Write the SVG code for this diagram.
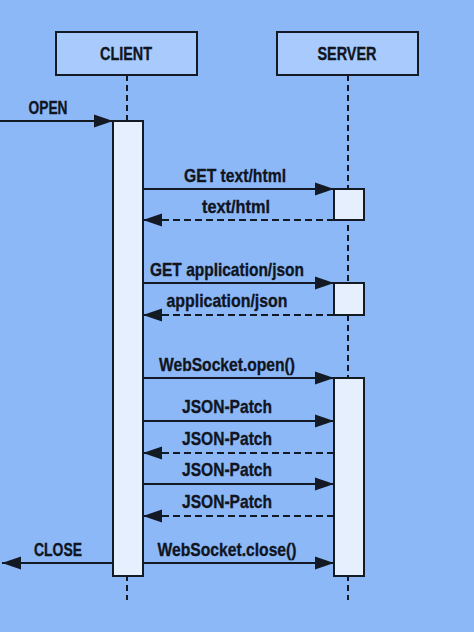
<svg xmlns="http://www.w3.org/2000/svg" width="474" height="632" viewBox="0 0 474 632">
<style>
.bg{fill:#8db8f8}
.head{fill:#a9cafc;stroke:#141a24;stroke-width:2}
.act{fill:#e6effe;stroke:#141a24;stroke-width:2}
.life{stroke:#141a24;stroke-width:2;stroke-dasharray:6 4;fill:none}
.msg{stroke:#141a24;stroke-width:2;fill:none}
.ret{stroke:#141a24;stroke-width:2;fill:none;stroke-dasharray:7 4}
text{font-family:"Liberation Sans",Arial,sans-serif;font-weight:bold;font-size:18.5px;fill:#10151f;stroke:#10151f;stroke-width:0.35;text-anchor:middle}
</style>
<defs>
<marker id="ah" markerUnits="userSpaceOnUse" markerWidth="19" markerHeight="13" refX="19" refY="6.5" orient="auto" overflow="visible">
<path d="M0,0 L19,6.5 L0,13 Z" fill="#141a24" stroke="none"/>
</marker>
</defs>
<rect class="bg" x="0" y="0" width="474" height="632"/>
<g id="lifelines">
<line class="life" x1="127" y1="75" x2="127" y2="600"/>
<line class="life" x1="348" y1="75" x2="348" y2="600"/>
</g>
<g id="client">
<rect class="head" x="56" y="32" width="141" height="43"/>
<text x="126" y="60" textLength="52" lengthAdjust="spacingAndGlyphs">CLIENT</text>
</g>
<g id="server">
<rect class="head" x="277" y="32" width="141" height="43"/>
<text x="347" y="60" textLength="59" lengthAdjust="spacingAndGlyphs">SERVER</text>
</g>
<g id="client-activation">
<rect class="act" x="113" y="121" width="30" height="455"/>
</g>
<g id="server-activation-html">
<rect class="act" x="334" y="189" width="30" height="31"/>
</g>
<g id="server-activation-json">
<rect class="act" x="334" y="283" width="30" height="32"/>
</g>
<g id="server-activation-ws">
<rect class="act" x="334" y="378" width="30" height="198"/>
</g>
<g id="connectors">
<line class="msg" x1="0" y1="121" x2="113" y2="121" marker-end="url(#ah)"/>
<text x="48" y="114" textLength="39" lengthAdjust="spacingAndGlyphs">OPEN</text>
<line class="msg" x1="143" y1="189" x2="334" y2="189" marker-end="url(#ah)"/>
<text x="235" y="182" textLength="102" lengthAdjust="spacingAndGlyphs">GET text/html</text>
<line class="ret" x1="334" y1="220" x2="143" y2="220" marker-end="url(#ah)"/>
<text x="236" y="213" textLength="68" lengthAdjust="spacingAndGlyphs">text/html</text>
<line class="msg" x1="143" y1="283" x2="334" y2="283" marker-end="url(#ah)"/>
<text x="227" y="276" textLength="154" lengthAdjust="spacingAndGlyphs">GET application/json</text>
<line class="ret" x1="334" y1="315" x2="143" y2="315" marker-end="url(#ah)"/>
<text x="227" y="307" textLength="121" lengthAdjust="spacingAndGlyphs">application/json</text>
<line class="msg" x1="143" y1="378" x2="334" y2="378" marker-end="url(#ah)"/>
<text x="227" y="371" textLength="136" lengthAdjust="spacingAndGlyphs">WebSocket.open()</text>
<line class="msg" x1="143" y1="421" x2="334" y2="421" marker-end="url(#ah)"/>
<text x="227" y="413" textLength="90" lengthAdjust="spacingAndGlyphs">JSON-Patch</text>
<line class="ret" x1="334" y1="453" x2="143" y2="453" marker-end="url(#ah)"/>
<text x="227" y="445" textLength="90" lengthAdjust="spacingAndGlyphs">JSON-Patch</text>
<line class="msg" x1="143" y1="484" x2="334" y2="484" marker-end="url(#ah)"/>
<text x="227" y="476" textLength="90" lengthAdjust="spacingAndGlyphs">JSON-Patch</text>
<line class="ret" x1="334" y1="516" x2="143" y2="516" marker-end="url(#ah)"/>
<text x="227" y="508" textLength="90" lengthAdjust="spacingAndGlyphs">JSON-Patch</text>
<line class="msg" x1="113" y1="563" x2="2" y2="563" marker-end="url(#ah)"/>
<text x="58" y="556" textLength="48" lengthAdjust="spacingAndGlyphs">CLOSE</text>
<line class="msg" x1="143" y1="563" x2="334" y2="563" marker-end="url(#ah)"/>
<text x="227" y="556" textLength="139" lengthAdjust="spacingAndGlyphs">WebSocket.close()</text>
</g>
</svg>
